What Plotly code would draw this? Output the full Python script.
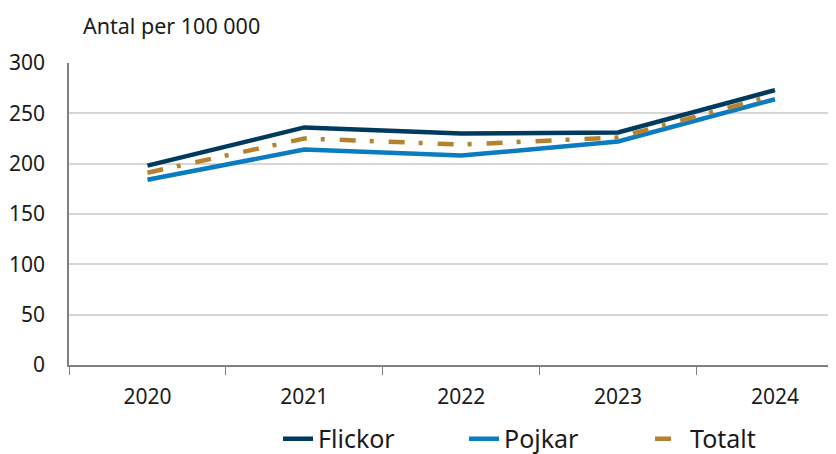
import plotly.graph_objects as go

years = ["2020", "2021", "2022", "2023", "2024"]
flickor = [198, 236, 230, 231, 273]
pojkar = [184, 214, 208, 222, 264]
totalt = [191, 225, 219, 226, 268]

FONT = "Noto Sans"

fig = go.Figure()
fig.add_trace(go.Scatter(x=years, y=flickor, name="Flickor", mode="lines",
                         line=dict(color="#003a5e", width=4.5)))
fig.add_trace(go.Scatter(x=years, y=pojkar, name="Pojkar", mode="lines",
                         line=dict(color="#0a7cc1", width=4.5)))
fig.add_trace(go.Scatter(x=years, y=totalt, name="Totalt", mode="lines",
                         line=dict(color="#b5822f", width=4.5, dash="16px,14px,4px,15px")))

# page has an 8px body margin (and gets squeezed a little), margins compensate
fig.update_layout(
    width=836, height=454,
    margin=dict(l=61, r=0, t=55, b=92),
    plot_bgcolor="white", paper_bgcolor="white",
    font=dict(family=FONT, size=21, color="#1a1a1a"),
    showlegend=True,
    legend=dict(orientation="h", x=0.2697, xanchor="left", y=-0.245, yanchor="middle",
                font=dict(size=25), entrywidth=141, entrywidthmode="pixels",
                itemwidth=30, tracegroupgap=0),
    xaxis=dict(type="category", range=[-0.5, 4.44], showgrid=False, automargin=False,
               showline=True, linecolor="#808080", linewidth=1.5,
               ticks="outside", tickson="boundaries", ticklen=8, tickcolor="#808080",
               ticklabelstandoff=12, tickfont=dict(size=21)),
    yaxis=dict(range=[0, 300], dtick=50, showgrid=True, gridcolor="#d6d6d6", gridwidth=1.5,
               showline=True, linecolor="#808080", linewidth=1.5, zeroline=False,
               automargin=False, ticks="", ticklabelstandoff=18, tickfont=dict(size=21)),
    annotations=[dict(text="Antal per 100 000", xref="paper", yref="paper",
                      x=0.0152, y=1.123, xanchor="left", yanchor="middle",
                      showarrow=False, font=dict(size=21.5))],
)

fig.write_html("out.html")
